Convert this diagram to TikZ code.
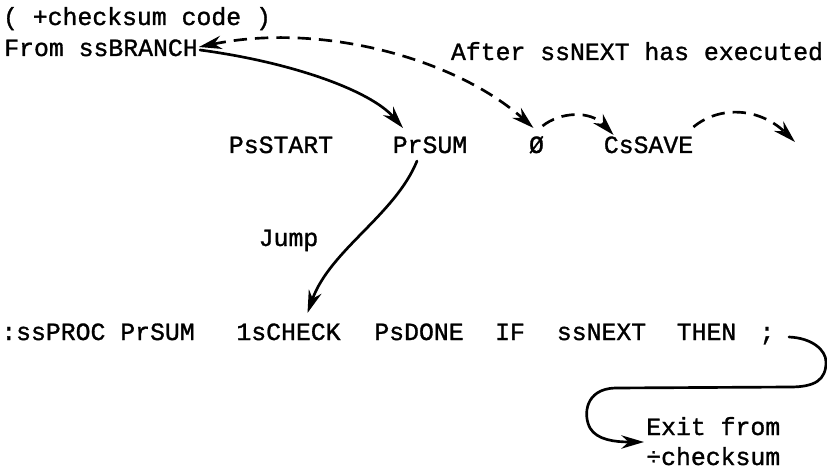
\documentclass[tikz,border=0pt]{standalone}
\usepackage{fontspec}
\setmainfont[FakeBold=1.2,AutoFakeBold=1.2]{Liberation Mono}
\usetikzlibrary{arrows.meta,calc}
\tikzset{
  txt/.style={inner sep=0pt, anchor=base, font=\fontsize{18.6}{22}\selectfont},
  txtl/.style={txt, anchor=base west},
  tip/.tip={Stealth[length=17pt,width=10pt]},
  conn/.style={line width=2pt, line cap=round, -tip},
  dconn/.style={conn, line cap=butt, dash pattern=on 10pt off 6pt},
}
\begin{document}
\begin{tikzpicture}[x=0.75pt,y=-0.75pt]
\useasboundingbox (0,0) rectangle (827,470);
% texts
\node[txt] (title) at (137,25) {( +checksum code )};
\node[txt] (branch) at (101,56) {From ssBRANCH};
\node[txt] (after) at (637,60) {After ssNEXT has executed};
\node[txt] (psstart) at (281,153) {PsSTART};
\node[txt] (prsum) at (430,153) {PrSUM};
\node[txt] (zero) at (536.5,153) {Ø};
\node[txt] (cssave) at (648.5,153) {CsSAVE};
\node[txt] (jump) at (288.5,246) {Jump};
\node[txt] (proc) at (98,340) {:ssPROC PrSUM};
\node[txt] (check) at (288.5,340) {1sCHECK};
\node[txt] (done) at (419,340) {PsDONE};
\node[txt] (if) at (510,340) {IF};
\node[txt] (next) at (601.5,340) {ssNEXT};
\node[txt] (then) at (706.5,340) {THEN};
\node[txt] (semi) at (767,340) {;};
\node[txtl] (exitA) at (646,435) {Exit from};
\node[txtl] (exitB) at (646,465) {÷checksum};
\coordinate (free) at (795,142);
% connectors
\draw[conn] ($(branch.base east)+(2,-6)$) .. controls (290,62) and (370,90) .. ($(prsum.base)+(-27,-25)$);
\draw[dconn, tip-tip]
  ($(branch.base east)+(1,-9)$) .. controls (320,22) and (455,58) .. ($(zero.base)+(-3,-25)$);
\draw[dconn] ($(zero.base)+(6,-27)$) .. controls (560,112) and (590,110) .. ($(cssave.base west)+(10,-18)$);
\draw[dconn] ($(cssave.base east)+(0,-26)$) .. controls (720,105) and (760,108) .. (free);
\draw[conn] ($(prsum.base)+(-13,8)$) .. controls (395,215) and (330,250) .. ($(check.base)+(19,-27)$);
\draw[conn] ($(semi.base)+(22,-3)$) .. controls (812,338) and (826,350) .. (826,362)
  .. controls (826,380) and (815,387) .. (790,387) -- (615,388)
  .. controls (585,389) and (583,415) .. (590,428)
  .. controls (597,440) and (615,442) .. ($(exitA.base west)+(-2,7)$);
\end{tikzpicture}
\end{document}
